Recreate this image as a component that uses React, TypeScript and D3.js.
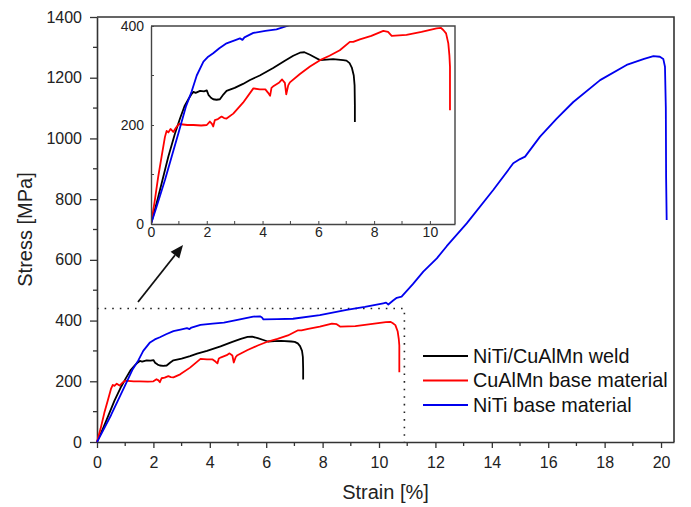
import React, { useRef, useEffect } from 'react';
import * as d3 from 'd3';

// NiTi/CuAlMn weld (black)
const weldStrain = [0, 0.2, 0.38, 0.62, 0.86, 1.04, 1.2, 1.35, 1.45, 1.52, 1.6, 1.76, 1.9, 2.0, 2.06, 2.15, 2.23, 2.35, 2.47, 2.6, 2.71, 3.0, 3.3, 3.55, 3.9, 4.38, 4.8, 5.1, 5.34, 5.5, 5.7, 5.9, 6.06, 6.3, 6.53, 6.89, 7.01, 7.12, 7.2, 7.27, 7.3, 7.31, 7.31];
const weldStress = [0, 42, 82, 136, 183, 213, 238, 253, 262, 267, 265, 269, 268, 270, 261, 255, 252, 251, 252, 262, 269, 275, 283, 291, 300, 315, 330, 340, 346, 347, 342, 336, 331, 332, 333, 331, 330, 325, 316, 300, 280, 240, 206];

// CuAlMn base material (red)
const cualmnStrain = [0, 0.13, 0.26, 0.38, 0.5, 0.56, 0.62, 0.7, 0.8, 0.9, 1.0, 1.3, 1.52, 1.8, 2.0, 2.11, 2.18, 2.23, 2.29, 2.4, 2.53, 2.62, 2.71, 2.95, 3.3, 3.67, 3.9, 4.1, 4.2, 4.27, 4.32, 4.4, 4.6, 4.7, 4.8, 4.85, 4.92, 4.98, 5.34, 5.7, 6.06, 6.4, 6.77, 7.13, 7.25, 7.49, 7.9, 8.33, 8.5, 8.63, 9.16, 9.7, 10.24, 10.4, 10.48, 10.58, 10.66, 10.7, 10.72, 10.72];
const cualmnStress = [0, 45, 96, 136, 176, 188, 185, 192, 186, 195, 202, 200, 200, 199, 200, 207, 203, 197, 210, 212, 217, 214, 213, 223, 245, 274, 272, 272, 265, 259, 275, 279, 286, 292, 285, 262, 280, 286, 303, 318, 331, 340, 351, 368, 368, 373, 380, 390, 388, 380, 382, 388, 395, 396, 392, 385, 365, 340, 318, 230];

// NiTi base material (blue)
const nitiStrain = [0, 0.2, 0.5, 0.74, 0.98, 1.25, 1.46, 1.64, 1.88, 2.05, 2.23, 2.45, 2.71, 3.0, 3.19, 3.28, 3.35, 3.67, 4.1, 4.5, 4.98, 5.54, 5.78, 5.85, 5.9, 6.4, 6.95, 7.9, 8.85, 9.5, 10.15, 10.25, 10.33, 10.5, 10.63, 10.8, 11.2, 11.57, 12.05, 12.4, 13.11, 14.05, 14.76, 15.0, 15.18, 15.71, 16.3, 16.89, 17.84, 18.78, 19.4, 19.73, 19.96, 20.08, 20.14, 20.17, 20.18, 20.2];
const nitiStress = [0, 35, 89, 136, 183, 237, 268, 300, 328, 338, 345, 355, 365, 371, 375, 372, 377, 386, 390, 393, 402, 413, 414, 410, 404, 405, 406, 418, 435, 445, 457, 459, 453, 466, 475, 479, 520, 561, 605, 645, 720, 830, 918, 932, 940, 1006, 1065, 1120, 1192, 1242, 1262, 1271, 1269, 1262, 1236, 1100, 874, 731];

const seriesNames = ['NiTi/CuAlMn weld', 'CuAlMn base material', 'NiTi base material'];
const seriesColors = ['#000000', '#ff0000', '#0000ee'];

const mainXTicks = [0, 2, 4, 6, 8, 10, 12, 14, 16, 18, 20];
const mainYTicks = [0, 200, 400, 600, 800, 1000, 1200, 1400];
const insetXTicks = [0, 2, 4, 6, 8, 10];
const insetYTicks = [0, 200, 400];
const zoomBox = [10.9, 440]; // strain, stress of the dotted region

const W = 691;
const H = 507;
const FONT = '"Liberation Sans", Arial, sans-serif';

const App = () => {
  const svgRef = useRef<SVGSVGElement>(null);

  useEffect(() => {
    const svg = d3.select(svgRef.current);
    svg.selectAll('*').remove();

    const series = [
      weldStrain.map((s, i) => [s, weldStress[i]]),
      cualmnStrain.map((s, i) => [s, cualmnStress[i]]),
      nitiStrain.map((s, i) => [s, nitiStress[i]]),
    ];

    // main plot
    const m = { left: 97, top: 17, right: 674, bottom: 442 };
    const x = d3.scaleLinear().domain([0, 20.46]).range([m.left, m.right]);
    const y = d3.scaleLinear().domain([0, 1400]).range([m.bottom, m.top]);

    const xAxis = svg.append('g')
      .attr('transform', `translate(0,${m.bottom})`)
      .call(d3.axisBottom(x).tickValues(mainXTicks).tickSize(6).tickPadding(9).tickSizeOuter(0).tickFormat(d3.format('d')));
    xAxis.append('g').selectAll('line')
      .data(d3.range(1, 21, 2))
      .join('line')
      .attr('x1', d => x(d)).attr('x2', d => x(d))
      .attr('y1', 0).attr('y2', 4)
      .attr('stroke', '#333').attr('stroke-width', 1.3);

    const yAxis = svg.append('g')
      .attr('transform', `translate(${m.left},0)`)
      .call(d3.axisLeft(y).tickValues(mainYTicks).tickSize(7).tickPadding(8).tickSizeOuter(0).tickFormat(d3.format('d')));
    yAxis.append('g').selectAll('line')
      .data(d3.range(100, 1400, 200))
      .join('line')
      .attr('y1', d => y(d)).attr('y2', d => y(d))
      .attr('x1', 0).attr('x2', -4)
      .attr('stroke', '#333').attr('stroke-width', 1.3);

    [xAxis, yAxis].forEach(a => {
      a.select('.domain').attr('stroke', '#333').attr('stroke-width', 1.6);
      a.selectAll('.tick line').attr('stroke', '#333').attr('stroke-width', 1.3);
      a.selectAll('.tick text').attr('font-size', 16).attr('font-family', FONT).attr('fill', '#222');
    });

    // frame top/right
    svg.append('path')
      .attr('d', `M${m.left},${m.top}H${m.right}V${m.bottom}`)
      .attr('fill', 'none').attr('stroke', '#333').attr('stroke-width', 1.6);

    // dotted zoom region
    svg.append('path')
      .attr('d', `M${x(0)},${y(zoomBox[1])}H${x(zoomBox[0])}V${y(0)}`)
      .attr('fill', 'none').attr('stroke', '#222').attr('stroke-width', 1.6)
      .attr('stroke-dasharray', '1.6,6');

    const line = d3.line<number[]>().x(d => x(d[0])).y(d => y(d[1]));
    series.forEach((s, i) => {
      svg.append('path')
        .attr('d', line(s))
        .attr('fill', 'none')
        .attr('stroke', seriesColors[i])
        .attr('stroke-width', 1.8)
        .attr('stroke-linejoin', 'round');
    });

    // axis titles
    svg.append('text')
      .attr('x', (m.left + m.right) / 2).attr('y', 499)
      .attr('text-anchor', 'middle')
      .attr('font-size', 20).attr('font-family', FONT).attr('fill', '#222')
      .text('Strain [%]');
    svg.append('text')
      .attr('transform', `translate(32,${(m.top + m.bottom) / 2}) rotate(-90)`)
      .attr('text-anchor', 'middle')
      .attr('font-size', 20).attr('font-family', FONT).attr('fill', '#222')
      .text('Stress [MPa]');

    // legend
    seriesNames.forEach((name, i) => {
      const ly = 356 + i * 24.5;
      svg.append('line')
        .attr('x1', 423).attr('x2', 468).attr('y1', ly).attr('y2', ly)
        .attr('stroke', seriesColors[i]).attr('stroke-width', 1.8);
      svg.append('text')
        .attr('x', 473).attr('y', ly).attr('dy', '0.35em')
        .attr('font-size', 19.8).attr('font-family', FONT).attr('fill', '#111')
        .text(name);
    });

    // arrow
    const a0 = [138, 302];
    const a1 = [183, 245];
    const ang = Math.atan2(a1[1] - a0[1], a1[0] - a0[0]);
    const hl = 13;
    const hw = 5.5;
    const bx = a1[0] - hl * Math.cos(ang);
    const by = a1[1] - hl * Math.sin(ang);
    svg.append('line')
      .attr('x1', a0[0]).attr('y1', a0[1]).attr('x2', bx).attr('y2', by)
      .attr('stroke', '#111').attr('stroke-width', 1.8);
    svg.append('polygon')
      .attr('points', [
        a1,
        [bx + hw * Math.sin(ang), by - hw * Math.cos(ang)],
        [bx - hw * Math.sin(ang), by + hw * Math.cos(ang)],
      ].map(p => p.join(',')).join(' '))
      .attr('fill', '#111');

    // inset
    const n = { left: 151, top: 26, right: 455, bottom: 224 };
    const ix = d3.scaleLinear().domain([0, zoomBox[0]]).range([n.left, n.right]);
    const iy = d3.scaleLinear().domain([0, 400]).range([n.bottom, n.top]);

    svg.append('rect')
      .attr('x', n.left).attr('y', n.top)
      .attr('width', n.right - n.left).attr('height', n.bottom - n.top)
      .attr('fill', '#fff');

    svg.append('clipPath').attr('id', 'inset-clip')
      .append('rect')
      .attr('x', n.left).attr('y', n.top)
      .attr('width', n.right - n.left).attr('height', n.bottom - n.top);

    const iline = d3.line<number[]>().x(d => ix(d[0])).y(d => iy(d[1]));
    const ig = svg.append('g').attr('clip-path', 'url(#inset-clip)');
    series.forEach((s, i) => {
      ig.append('path')
        .attr('d', iline(s))
        .attr('fill', 'none')
        .attr('stroke', seriesColors[i])
        .attr('stroke-width', 1.8)
        .attr('stroke-linejoin', 'round');
    });

    const ixAxis = svg.append('g')
      .attr('transform', `translate(0,${n.bottom})`)
      .call(d3.axisBottom(ix).tickValues(insetXTicks).tickSize(-3).tickPadding(3).tickSizeOuter(0).tickFormat(d3.format('d')));
    ixAxis.append('g').selectAll('line')
      .data(d3.range(1, 11, 2))
      .join('line')
      .attr('x1', d => ix(d)).attr('x2', d => ix(d))
      .attr('y1', 0).attr('y2', -3)
      .attr('stroke', '#444');
    const iyAxis = svg.append('g')
      .attr('transform', `translate(${n.left},0)`)
      .call(d3.axisLeft(iy).tickValues(insetYTicks).tickSize(-3).tickPadding(7).tickSizeOuter(0).tickFormat(d3.format('d')));
    iyAxis.append('g').selectAll('line')
      .data([100, 300])
      .join('line')
      .attr('y1', d => iy(d)).attr('y2', d => iy(d))
      .attr('x1', 0).attr('x2', 3)
      .attr('stroke', '#444');

    [ixAxis, iyAxis].forEach(a => {
      a.select('.domain').attr('stroke', '#444').attr('stroke-width', 1.4);
      a.selectAll('.tick line').attr('stroke', '#444');
      a.selectAll('.tick text').attr('font-size', 14).attr('font-family', FONT).attr('fill', '#222');
    });

    svg.append('path')
      .attr('d', `M${n.left},${n.top}H${n.right}V${n.bottom}`)
      .attr('fill', 'none').attr('stroke', '#444').attr('stroke-width', 1.4);
  }, []);

  return (
    <svg
      ref={svgRef}
      width={W}
      height={H}
      style={{ position: 'absolute', left: 0, top: 0, background: '#fff' }}
    />
  );
};

export default App;
